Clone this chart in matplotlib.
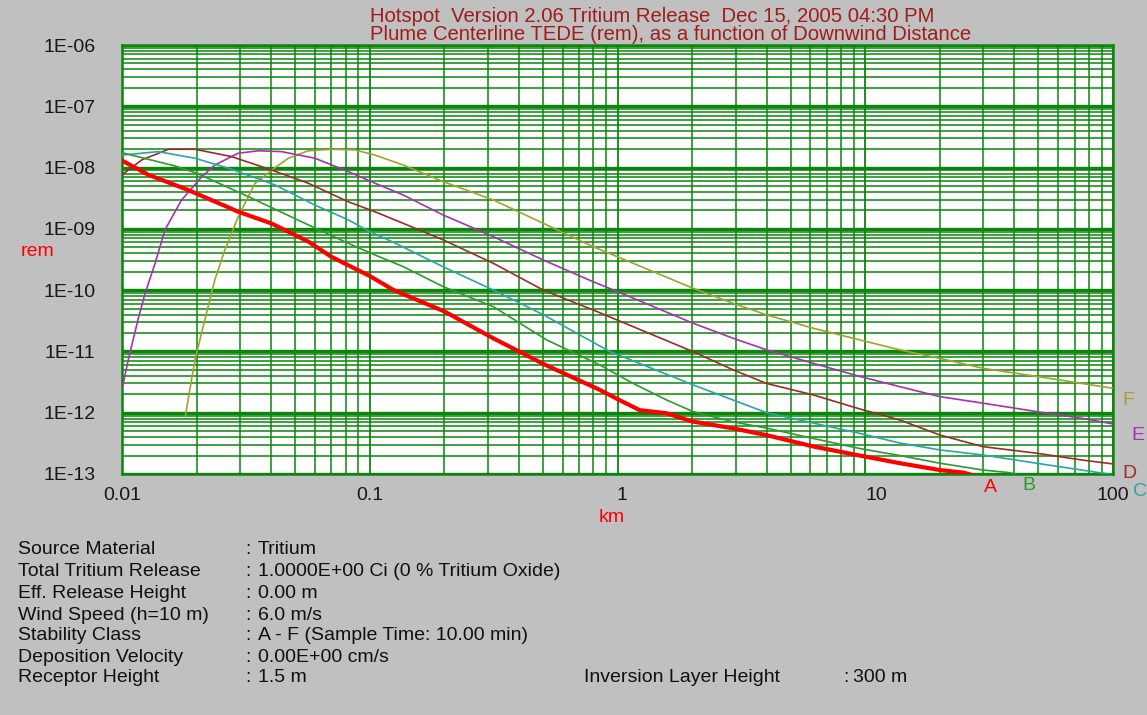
import numpy as np
import matplotlib
matplotlib.use("Agg")
import matplotlib.pyplot as plt
from matplotlib.ticker import LogLocator, NullFormatter
from matplotlib.transforms import ScaledTranslation

plt.rcParams['font.family'] = ['Liberation Sans', 'DejaVu Sans']

# ---------------- data ----------------
A_km = [0.01, 0.0128, 0.0185, 0.0295, 0.040, 0.0565, 0.070, 0.10, 0.125, 0.20, 0.315, 0.50,
        0.85, 1.02, 1.23, 1.58, 2.0, 2.9, 4.0, 6.2, 9.5, 13.8, 20, 25, 30]
A_rem = [1.3e-8, 7.6e-9, 4.3e-9, 1.9e-9, 1.23e-9, 6.2e-10, 3.5e-10, 1.7e-10, 1.0e-10, 4.5e-11,
         1.64e-11, 6.3e-12, 2.35e-12, 1.6e-12, 1.1e-12, 9.8e-13, 7.2e-13, 5.6e-13, 4.3e-13,
         2.8e-13, 2.0e-13, 1.5e-13, 1.16e-13, 1.05e-13, 8.5e-14]

B_km = [0.01, 0.0164, 0.020, 0.0324, 0.053, 0.082, 0.105, 0.1365, 0.198, 0.3155, 0.518, 0.849,
        1.158, 1.58, 2.02, 2.93, 4.0, 6.17, 9.52, 13.8, 20, 29.9, 38.4, 45]
B_rem = [1.75e-8, 1.06e-8, 8.1e-9, 3.35e-9, 1.31e-9, 5.8e-10, 3.75e-10, 2.42e-10, 1.14e-10,
         5.37e-11, 1.54e-11, 6.0e-12, 3.0e-12, 1.61e-12, 1.04e-12, 7.1e-13, 5.6e-13, 3.8e-13,
         2.6e-13, 2.0e-13, 1.5e-13, 1.16e-13, 1.05e-13, 9.0e-14]

C_km = [0.01, 0.014, 0.0197, 0.027, 0.0415, 0.060, 0.082, 0.10, 0.125, 0.198, 0.316, 0.50,
        0.93, 2.02, 4.0, 9.5, 13.8, 20, 30, 49, 75, 88, 100]
C_rem = [1.6e-8, 1.82e-8, 1.42e-8, 9.7e-9, 5.2e-9, 2.45e-9, 1.4e-9, 9.0e-10, 6.0e-10, 2.4e-10,
         1.0e-10, 4.0e-11, 1.0e-11, 2.84e-12, 1.0e-12, 4.6e-13, 3.2e-13, 2.47e-13, 2.04e-13,
         1.5e-13, 1.16e-13, 1.05e-13, 9.8e-14]

D_km = [0.01, 0.012, 0.0154, 0.0197, 0.0277, 0.0402, 0.0565, 0.0819, 0.105, 0.1365, 0.198,
        0.3155, 0.502, 0.798, 1.158, 2.02, 2.93, 4.0, 6.17, 9.52, 13.8, 20, 29.9, 49.4, 75, 100]
D_rem = [7.6e-9, 1.33e-8, 1.99e-8, 1.99e-8, 1.51e-8, 9.1e-9, 5.55e-9, 2.77e-9, 1.9e-9, 1.23e-9,
         6.6e-10, 2.74e-10, 1.0e-10, 4.74e-11, 2.53e-11, 9.9e-12, 5.0e-12, 3.0e-12, 1.95e-12,
         1.15e-12, 7.6e-13, 4.33e-13, 2.79e-13, 2.18e-13, 1.69e-13, 1.46e-13]

E_km = [0.01, 0.0106, 0.0116, 0.0124, 0.0136, 0.0149, 0.0174, 0.021, 0.0237, 0.0294, 0.0355,
        0.0441, 0.0601, 0.0819, 0.105, 0.1365, 0.198, 0.3155, 0.502, 0.798, 1.158, 2.02, 2.93,
        4.0, 6.17, 9.52, 13.8, 20, 29.9, 49.4, 75, 100]
E_rem = [2.4e-12, 7.3e-12, 3.3e-11, 8.9e-11, 2.74e-10, 9.6e-10, 2.96e-9, 7.1e-9, 1.1e-8,
         1.71e-8, 1.88e-8, 1.82e-8, 1.42e-8, 8.6e-9, 5.55e-9, 3.57e-9, 1.68e-9, 7.45e-10,
         3.1e-10, 1.37e-10, 7.4e-11, 2.88e-11, 1.64e-11, 1.06e-11, 6.4e-12, 3.9e-12, 2.66e-12,
         1.83e-12, 1.43e-12, 1.04e-12, 8.1e-13, 6.55e-13]

F_km = [0.018, 0.0197, 0.0216, 0.0237, 0.026, 0.0295, 0.0344, 0.0402, 0.0469, 0.0565, 0.0702,
        0.0871, 0.105, 0.1365, 0.198, 0.3155, 0.502, 0.798, 1.158, 2.02, 2.93, 4.0, 6.17, 9.52,
        13.8, 20, 29.9, 49.4, 75, 100]
F_rem = [8.6e-13, 7.3e-12, 3.3e-11, 1.47e-10, 4.5e-10, 1.6e-9, 5.5e-9, 9.1e-9, 1.42e-8, 1.88e-8,
         1.99e-8, 1.94e-8, 1.6e-8, 1.1e-8, 5.9e-9, 2.96e-9, 1.23e-9, 5.1e-10, 2.74e-10, 1.07e-10,
         6.1e-11, 3.94e-11, 2.39e-11, 1.54e-11, 1.06e-11, 7.7e-12, 5.3e-12, 3.9e-12, 3.0e-12,
         2.5e-12]

class_names = ['A', 'B', 'C', 'D', 'E', 'F']

x_ticks = [0.01, 0.1, 1, 10, 100]
x_tick_labels = ['0.01', '0.1', '1', '10', '100']
y_ticks = [1e-6, 1e-7, 1e-8, 1e-9, 1e-10, 1e-11, 1e-12, 1e-13]
y_tick_labels = ['1E-06', '1E-07', '1E-08', '1E-09', '1E-10', '1E-11', '1E-12', '1E-13']

title_lines = ['Hotspot  Version 2.06 Tritium Release  Dec 15, 2005 04:30 PM',
               'Plume Centerline TEDE (rem), as a function of Downwind Distance']

info_keys = ['Source Material', 'Total Tritium Release', 'Eff. Release Height',
             'Wind Speed (h=10 m)', 'Stability Class', 'Deposition Velocity', 'Receptor Height']
info_vals = ['Tritium', '1.0000E+00 Ci (0 % Tritium Oxide)', '0.00 m', '6.0 m/s',
             'A - F (Sample Time: 10.00 min)', '0.00E+00 cm/s', '1.5 m']
inv_key = 'Inversion Layer Height'
inv_val = '300 m'

# ---------------- styling ----------------
W, H = 1147, 715
BG = '#c0c0c0'
GRID = '#0a860a'
colors = {'A': '#ff0000', 'B': '#2e9a2e', 'C': '#2ba3ab', 'D': '#a02a2a',
          'E': '#a830b4', 'F': '#a4a030'}
widths = {'A': 3.0, 'B': 1.2, 'C': 1.2, 'D': 1.2, 'E': 1.2, 'F': 1.2}
FS = 14

fig = plt.figure(figsize=(W / 100, H / 100), dpi=100, facecolor=BG)

def fx(px):
    return px / W

def fy(py):
    return 1 - py / H

ax = fig.add_axes([fx(122), fy(474), fx(1113) - fx(122), fy(45) - fy(474)])
ax.set_facecolor('white')
ax.set_xscale('log')
ax.set_yscale('log')
ax.set_xlim(0.01, 100)
ax.set_ylim(1e-13, 1e-6)

for axis in (ax.xaxis, ax.yaxis):
    axis.set_minor_locator(LogLocator(base=10, subs=np.arange(2, 10), numticks=200))
    axis.set_minor_formatter(NullFormatter())
ax.set_xticks(x_ticks)
ax.set_xticklabels(x_tick_labels)
ax.set_yticks(y_ticks)
ax.set_yticklabels(y_tick_labels)

ax.yaxis.grid(True, which='major', color=GRID, lw=2.4)
ax.yaxis.grid(True, which='minor', color=GRID, lw=1.1)
ax.xaxis.grid(True, which='major', color=GRID, lw=1.3)
ax.xaxis.grid(True, which='minor', color=GRID, lw=1.1)
ax.set_axisbelow(True)
for s in ax.spines.values():
    s.set_color(GRID)
    s.set_linewidth(1.8)

ax.tick_params(which='both', length=0)
ax.tick_params(axis='y', labelsize=FS, pad=19, labelcolor='#181818')
ax.tick_params(axis='x', labelsize=FS, pad=9, labelcolor='#181818')

# small per-label shifts of x tick labels (in points)
x_shifts = [0, 0, 3, 8, 0]
for lab, dx in zip(ax.get_xticklabels(), x_shifts):
    lab.set_transform(lab.get_transform() + ScaledTranslation(dx / 72, 0, fig.dpi_scale_trans))

series = {'A': (A_km, A_rem), 'B': (B_km, B_rem), 'C': (C_km, C_rem),
          'D': (D_km, D_rem), 'E': (E_km, E_rem), 'F': (F_km, F_rem)}
for name in ['F', 'E', 'D', 'C', 'B', 'A']:
    xs, ys = series[name]
    ax.plot(xs, ys, color=colors[name], lw=widths[name], solid_joinstyle='round', zorder=3)

# curve letters at the right / bottom
letter_pos = {'A': (990, 487), 'B': (1029, 485), 'C': (1140, 491), 'D': (1129, 473),
              'E': (1138, 436), 'F': (1128, 400)}
for name in class_names:
    px, py = letter_pos[name]
    fig.text(fx(px), fy(py), name, color=colors[name], fontsize=FS, ha='center', va='center')

# axis labels
fig.text(fx(37), fy(251), 'rem', color='red', fontsize=FS, ha='center', va='center')
fig.text(fx(612), fy(517), 'km', color='red', fontsize=FS, ha='center', va='center')

# title
title_color = '#a01c1c'
fig.text(fx(370), fy(17), title_lines[0], color=title_color, fontsize=14.6, ha='left', va='center')
fig.text(fx(370), fy(35), title_lines[1], color=title_color, fontsize=14.6, ha='left', va='center')

# info block
row_y = [550, 572, 593, 615, 636, 657, 678]
txt_color = '#101010'
for k, v, yy in zip(info_keys, info_vals, row_y):
    fig.text(fx(18), fy(yy), k, color=txt_color, fontsize=FS, ha='left', va='center')
    fig.text(fx(245), fy(yy), ':', color=txt_color, fontsize=FS, ha='left', va='center')
    fig.text(fx(258), fy(yy), v, color=txt_color, fontsize=FS, ha='left', va='center')
fig.text(fx(584), fy(678), inv_key, color=txt_color, fontsize=FS, ha='left', va='center')
fig.text(fx(843), fy(678), ':', color=txt_color, fontsize=FS, ha='left', va='center')
fig.text(fx(853), fy(678), inv_val, color=txt_color, fontsize=FS, ha='left', va='center')

fig.savefig('out.png', dpi=100, facecolor=BG)
